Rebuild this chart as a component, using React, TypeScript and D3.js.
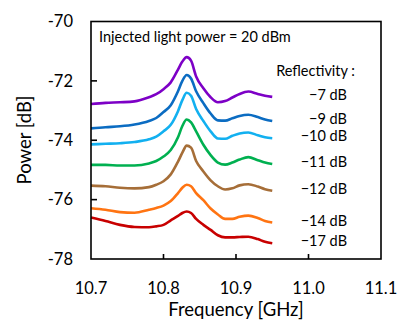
import * as d3 from "d3";
import React from "react";

// frequency grid (GHz) shared by all traces
const freqs = [10.70, 10.72, 10.74, 10.76, 10.78, 10.79, 10.80, 10.81, 10.82, 10.826, 10.832, 10.838, 10.845, 10.855, 10.865, 10.875, 10.885, 10.895, 10.905, 10.917, 10.93, 10.94, 10.95];

const labels = ["\u22127 dB", "\u22129 dB", "\u221210 dB", "\u221211 dB", "\u221212 dB", "\u221214 dB", "\u221217 dB"];
const colors = ["#7d00c6", "#0b6cc2", "#12b0f0", "#00b050", "#a66e38", "#ff7412", "#c80000"];

const r7 = [-72.78, -72.74, -72.72, -72.69, -72.55, -72.45, -72.28, -72.05, -71.62, -71.35, -71.2, -71.32, -71.85, -72.25, -72.55, -72.72, -72.68, -72.56, -72.44, -72.36, -72.44, -72.5, -72.54];
const r9 = [-73.6, -73.56, -73.53, -73.47, -73.35, -73.25, -73.05, -72.82, -72.35, -72.0, -71.8, -71.92, -72.35, -72.75, -73.1, -73.33, -73.34, -73.26, -73.18, -73.14, -73.22, -73.3, -73.35];
const r10 = [-74.14, -74.12, -74.1, -74.06, -73.97, -73.88, -73.7, -73.48, -73.02, -72.65, -72.4, -72.5, -72.95, -73.35, -73.7, -73.94, -73.95, -73.85, -73.77, -73.74, -73.83, -73.9, -73.93];
const r11 = [-74.83, -74.83, -74.85, -74.85, -74.78, -74.7, -74.55, -74.33, -73.9, -73.52, -73.3, -73.4, -73.7, -74.15, -74.5, -74.75, -74.82, -74.75, -74.65, -74.57, -74.67, -74.75, -74.8];
const r12 = [-75.53, -75.55, -75.6, -75.62, -75.58, -75.5, -75.38, -75.15, -74.72, -74.42, -74.18, -74.25, -74.7, -75.05, -75.35, -75.55, -75.66, -75.62, -75.52, -75.48, -75.56, -75.65, -75.7];
const r14 = [-76.29, -76.34, -76.42, -76.44, -76.34, -76.28, -76.2, -76.05, -75.78, -75.6, -75.5, -75.55, -75.78, -76.02, -76.3, -76.5, -76.65, -76.65, -76.58, -76.54, -76.62, -76.72, -76.77];
const r17 = [-76.6, -76.72, -76.85, -76.92, -76.93, -76.9, -76.85, -76.7, -76.55, -76.45, -76.4, -76.45, -76.65, -76.85, -77.02, -77.2, -77.27, -77.27, -77.26, -77.25, -77.33, -77.42, -77.47];
const series = [r7, r9, r10, r11, r12, r14, r17];

const xTicks = [10.7, 10.8, 10.9, 11.0, 11.1];
const yTicks = [-70, -72, -74, -76, -78];

const W = 397, H = 322;
const m = { left: 91, right: 16, top: 21.5, bottom: 63 };
const font = "Lato, 'Open Sans', sans-serif";

export default function App() {
  const x = d3.scaleLinear().domain([10.7, 11.1]).range([m.left, W - m.right]);
  const y = d3.scaleLinear().domain([-78, -70]).range([H - m.bottom, m.top]);

  const line = d3.line<number>()
    .x((_, i) => x(freqs[i]))
    .y((d) => y(d))
    .curve(d3.curveMonotoneX);

  return (
    <svg width={W} height={H} style={{ position: "fixed", left: 0, top: 0, background: "#fff" }} fontFamily={font}>
      {series.map((s, i) => (
        <path key={i} d={line(s) ?? ""} fill="none" stroke={colors[i]} strokeWidth={2.6} strokeLinejoin="round" />
      ))}

      {/* frame */}
      <rect x={x(10.7)} y={y(-70)} width={x(11.1) - x(10.7)} height={y(-78) - y(-70)} fill="none" stroke="#000" strokeWidth={1.6} />

      {/* y axis */}
      {yTicks.map((t) => (
        <g key={t}>
          {t !== -70 && t !== -78 && <line x1={x(10.7)} x2={x(10.7) + 6} y1={y(t)} y2={y(t)} stroke="#000" strokeWidth={1.6} />}
          <text x={73} y={y(t)} dy="0.35em" textAnchor="end" fontSize={16.5}>{String(t)}</text>
        </g>
      ))}

      {/* x axis */}
      {xTicks.map((t) => (
        <g key={t}>
          {t !== 10.7 && t !== 11.1 && <line x1={x(t)} x2={x(t)} y1={y(-78)} y2={y(-78) - 5} stroke="#000" strokeWidth={1.6} />}
          <text x={x(t)} y={294} textAnchor="middle" fontSize={16.5}>{d3.format(".1f")(t)}</text>
        </g>
      ))}

      <text x={236} y={316} textAnchor="middle" fontSize={18.5}>Frequency [GHz]</text>
      <text transform="translate(25,140) rotate(-90)" dy="0.35em" textAnchor="middle" fontSize={18.5}>Power [dB]</text>

      <text x={99} y={37} dy="0.35em" fontSize={14.5}>Injected light power = 20 dBm</text>
      <text x={355} y={71} dy="0.35em" textAnchor="end" fontSize={14.5}>Reflectivity :</text>
      {labels.map((l, i) => (
        <text key={l} x={347} y={y(series[i][series[i].length - 1]) - 2} dy="0.35em" textAnchor="end" fontSize={14.5}>{l}</text>
      ))}
    </svg>
  );
}
